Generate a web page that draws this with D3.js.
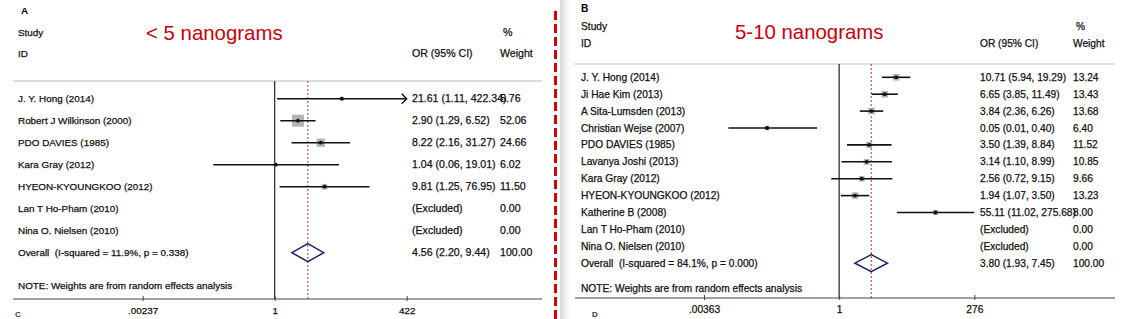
<!DOCTYPE html>
<html>
<head>
<meta charset="utf-8">
<script src="https://cdn.jsdelivr.net/npm/d3@7"></script>
<style>
  body { margin: 0; background: #fff; }
  svg { display: block; font-family: "Liberation Sans", Arial, sans-serif; }
  text { white-space: pre; }
</style>
</head>
<body>
<svg id="chart" width="1132" height="319"></svg>
<script>
// panel A: < 5 nanograms
const studiesA = ["J. Y. Hong (2014)", "Robert J Wilkinson (2000)", "PDO DAVIES (1985)", "Kara Gray (2012)",
  "HYEON-KYOUNGKOO (2012)", "Lan T Ho-Pham (2010)", "Nina O. Nielsen (2010)"];
const orA = [21.61, 2.90, 8.22, 1.04, 9.81, null, null];
const lowA = [1.11, 1.29, 2.16, 0.06, 1.25, null, null];
const highA = [422.34, 6.52, 31.27, 19.01, 76.95, null, null];
const weightA = [5.76, 52.06, 24.66, 6.02, 11.50, 0.00, 0.00];
const overallA = { label: "Overall  (I-squared = 11.9%, p = 0.338)", or: 4.56, low: 2.20, high: 9.44, weight: 100.00 };
const ticksA = [0.00237, 1, 422];
const tickLabelsA = [".00237", "1", "422"];

// panel B: 5-10 nanograms
const studiesB = ["J. Y. Hong (2014)", "Ji Hae Kim (2013)", "A Sita-Lumsden (2013)", "Christian Wejse (2007)",
  "PDO DAVIES (1985)", "Lavanya Joshi (2013)", "Kara Gray (2012)", "HYEON-KYOUNGKOO (2012)",
  "Katherine B (2008)", "Lan T Ho-Pham (2010)", "Nina O. Nielsen (2010)"];
const orB = [10.71, 6.65, 3.84, 0.05, 3.50, 3.14, 2.56, 1.94, 55.11, null, null];
const lowB = [5.94, 3.85, 2.36, 0.01, 1.39, 1.10, 0.72, 1.07, 11.02, null, null];
const highB = [19.29, 11.49, 6.26, 0.40, 8.84, 8.99, 9.15, 3.50, 275.68, null, null];
const weightB = [13.24, 13.43, 13.68, 6.40, 11.52, 10.85, 9.66, 13.23, 8.00, 0.00, 0.00];
const overallB = { label: "Overall  (I-squared = 84.1%, p = 0.000)", or: 3.80, low: 1.93, high: 7.45, weight: 100.00 };
const ticksB = [0.00363, 1, 276];
const tickLabelsB = [".00363", "1", "276"];

const svg = d3.select("#chart");

// soft shadow on left of panel B
const defs = svg.append("defs");
const grad = defs.append("linearGradient").attr("id", "shade");
grad.append("stop").attr("offset", "0%").attr("stop-color", "#d8d8d8");
grad.append("stop").attr("offset", "100%").attr("stop-color", "#fff");
svg.append("rect").attr("x", 560).attr("y", 0).attr("width", 10).attr("height", 319).attr("fill", "url(#shade)");

function txt(g, x, y, size, s) {
  return g.append("text").attr("x", x).attr("y", y).attr("dy", "0.35em").attr("font-size", size)
    .attr("fill", "#111").attr("stroke", "#111").attr("stroke-width", 0.25).text(s);
}

function drawPanel(p) {
  const g = svg.append("g");
  const n = p.studies.length;
  const x = d3.scaleLog().domain(p.domain).range(p.range);
  const y = d3.scaleLinear().domain([0, 1]).range([p.firstRow, p.firstRow + p.step]);
  const fs = p.fontSize, ns = p.numSize;

  // header
  g.append("text").attr("x", p.letterX).attr("y", p.letterY).attr("font-size", fs).attr("font-weight", "bold").text(p.letter);
  txt(g, p.labelX, p.studyY, fs, "Study");
  txt(g, p.labelX, p.idY, fs, "ID");
  txt(g, p.wX + 3, p.studyY, ns, "%");
  txt(g, p.orX, p.idY, ns, "OR (95% CI)");
  txt(g, p.wX, p.idY, ns, "Weight");
  g.append("text").attr("x", p.titleX).attr("y", p.titleY).attr("dy", "0.35em").attr("font-size", 20.4)
    .attr("fill", "#c8000a").text(p.title);

  // rules
  g.append("line").attr("x1", p.x0).attr("x2", p.x1).attr("y1", p.topRule).attr("y2", p.topRule)
    .attr("stroke", "#bbb").attr("stroke-width", 1);
  g.append("line").attr("x1", p.x0).attr("x2", p.x1).attr("y1", p.axisY).attr("y2", p.axisY)
    .attr("stroke", "#444").attr("stroke-width", 1);
  g.append("line").attr("x1", x(1)).attr("x2", x(1)).attr("y1", p.topRule).attr("y2", p.axisY)
    .attr("stroke", "#222").attr("stroke-width", 1.2);
  g.append("line").attr("x1", x(p.overall.or)).attr("x2", x(p.overall.or)).attr("y1", p.topRule).attr("y2", p.axisY)
    .attr("stroke", "#a8383a").attr("stroke-width", 1).attr("stroke-dasharray", "2,2");

  // axis ticks
  const axis = g.append("g").attr("transform", `translate(0,${p.axisY})`)
    .call(d3.axisBottom(x).tickValues(p.ticks).tickFormat((d, i) => p.tickLabels[i]).tickSize(3).tickSizeOuter(0));
  axis.select(".domain").remove();
  axis.selectAll(".tick line").attr("y1", -3).attr("y2", 2).attr("stroke", "#444");
  axis.selectAll(".tick text").attr("font-size", fs).attr("font-family", "Liberation Sans, Arial, sans-serif")
    .attr("fill", "#111").attr("stroke", "#111").attr("stroke-width", 0.25).attr("y", 8);

  const rows = p.studies.map((s, i) => ({ s, or: p.or[i], lo: p.low[i], hi: p.high[i], w: p.weight[i], i }));

  // labels & text columns
  rows.forEach(d => {
    txt(g, p.labelX, y(d.i), fs, d.s);
    txt(g, p.orX, y(d.i), ns, d.or == null ? "(Excluded)" : `${d.or.toFixed(2)} (${d.lo.toFixed(2)}, ${d.hi.toFixed(2)})`);
    txt(g, p.wX, y(d.i), ns, d.w.toFixed(2));
  });

  const est = rows.filter(d => d.or != null);
  const [dmin, dmax] = p.domain;
  // weight boxes
  g.selectAll(".box").data(est).join("rect")
    .attr("x", d => x(d.or) - p.boxK * Math.sqrt(d.w) / 2)
    .attr("y", d => y(d.i) - p.boxK * Math.sqrt(d.w) / 2)
    .attr("width", d => p.boxK * Math.sqrt(d.w))
    .attr("height", d => p.boxK * Math.sqrt(d.w))
    .attr("fill", "#b4b4b4");
  // CI lines
  g.selectAll(".ci").data(est).join("line")
    .attr("x1", d => x(Math.max(d.lo, dmin))).attr("x2", d => x(Math.min(d.hi, dmax)))
    .attr("y1", d => y(d.i)).attr("y2", d => y(d.i))
    .attr("stroke", "#111").attr("stroke-width", 1.6);
  // arrows where CI is clipped
  g.selectAll(".arr").data(est.filter(d => d.hi > dmax)).join("path")
    .attr("d", d => { const ax = x(dmax), ay = y(d.i); return `M${ax - 5},${ay - 5}L${ax},${ay}L${ax - 5},${ay + 5}`; })
    .attr("fill", "none").attr("stroke", "#111").attr("stroke-width", 1.4);
  g.selectAll(".dot").data(est).join("circle")
    .attr("cx", d => x(d.or)).attr("cy", d => y(d.i)).attr("r", 1.9).attr("fill", "#111");

  // overall
  const oy = y(n);
  const o = p.overall;
  txt(g, p.labelX, oy, fs, o.label);
  txt(g, p.orX, oy, ns, `${o.or.toFixed(2)} (${o.low.toFixed(2)}, ${o.high.toFixed(2)})`);
  txt(g, p.wX, oy, ns, o.weight.toFixed(2));
  const h = p.diamondH / 2;
  g.append("path")
    .attr("d", `M${x(o.low)},${oy}L${x(o.or)},${oy - h}L${x(o.high)},${oy}L${x(o.or)},${oy + h}Z`)
    .attr("fill", "none").attr("stroke", "#1d1f66").attr("stroke-width", 1.5);

  txt(g, p.labelX, p.noteY, fs, "NOTE: Weights are from random effects analysis");

  // next panel letter at the bottom edge
  g.append("text").attr("x", p.nextX).attr("y", 317).attr("font-size", 8).attr("font-weight", "bold").attr("fill", "#333").text(p.next);
}

drawPanel({
  letter: "A", next: "C", title: "< 5 nanograms",
  studies: studiesA, or: orA, low: lowA, high: highA, weight: weightA, overall: overallA,
  ticks: ticksA, tickLabels: tickLabelsA,
  domain: [0.00237, 422], range: [142.7, 406.7],
  x0: 13, x1: 542, topRule: 81, axisY: 299, firstRow: 98.7, step: 22,
  labelX: 18, orX: 412, wX: 500, fontSize: 9.9, numSize: 10.6,
  letterX: 21, letterY: 14, studyY: 32.3, idY: 53.3, titleX: 146, titleY: 33,
  noteY: 286, diamondH: 18, boxK: 1.66, nextX: 15
});

drawPanel({
  letter: "B", next: "D", title: "5-10 nanograms",
  studies: studiesB, or: orB, low: lowB, high: highB, weight: weightB, overall: overallB,
  ticks: ticksB, tickLabels: tickLabelsB,
  domain: [0.00363, 276], range: [704, 974.3],
  x0: 575, x1: 1115, topRule: 64, axisY: 298, firstRow: 77.3, step: 16.9,
  labelX: 581, orX: 980, wX: 1073, fontSize: 10.2, numSize: 10.2,
  letterX: 581, letterY: 12, studyY: 26, idY: 43, titleX: 735, titleY: 32,
  noteY: 288.3, diamondH: 17, boxK: 1.8, nextX: 592
});

// red dashed separator
svg.append("line").attr("x1", 555.5).attr("x2", 555.5).attr("y1", 11).attr("y2", 319)
  .attr("stroke", "#d40000").attr("stroke-width", 3).attr("stroke-dasharray", "9,4");
</script>
</body>
</html>
